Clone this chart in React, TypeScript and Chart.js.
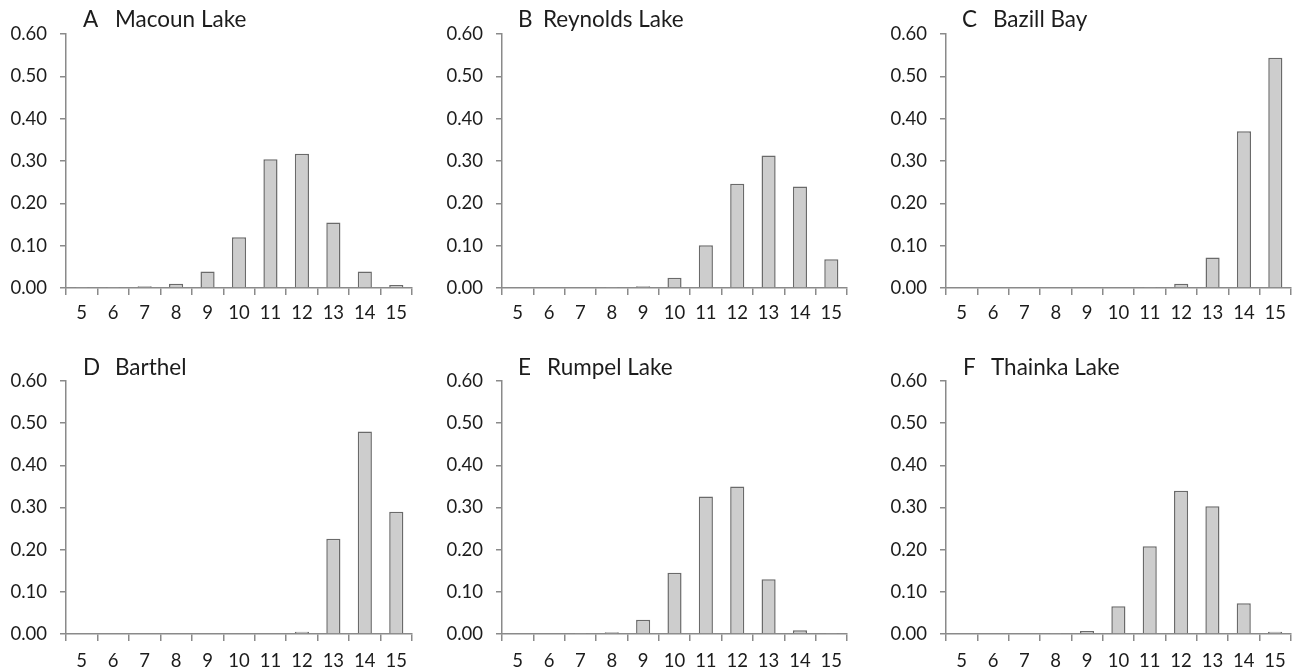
import React, { useEffect, useRef } from "react";
import { Chart, registerables } from "chart.js";

Chart.register(...registerables);

// ---------- DATA ----------
const lengthClasses = ["5", "6", "7", "8", "9", "10", "11", "12", "13", "14", "15"];

const macounLake = [0.001, 0.001, 0.004, 0.01, 0.039, 0.12, 0.304, 0.317, 0.155, 0.039, 0.007];
const reynoldsLake = [0, 0, 0, 0.001, 0.004, 0.024, 0.101, 0.246, 0.313, 0.24, 0.068];
const bazillBay = [0, 0, 0, 0, 0, 0, 0.001, 0.01, 0.072, 0.37, 0.544];
const barthel = [0, 0, 0, 0, 0, 0, 0, 0.0055, 0.226, 0.48, 0.29];
const rumpelLake = [0, 0, 0.001, 0.004, 0.034, 0.145, 0.326, 0.35, 0.13, 0.009, 0.001];
const thainkaLake = [0, 0, 0, 0.001, 0.007, 0.066, 0.208, 0.34, 0.303, 0.073, 0.0055];

const panelLetters = ["A", "B", "C", "D", "E", "F"];
const panelNames = ["Macoun Lake", "Reynolds Lake", "Bazill Bay", "Barthel", "Rumpel Lake", "Thainka Lake"];
const panelSeries = [macounLake, reynoldsLake, bazillBay, barthel, rumpelLake, thainkaLake];

const yMin = 0;
const yMax = 0.6;
const yStep = 0.1;

// ---------- LAYOUT / STYLE ----------
type PanelLayout = {
  left: number;
  top: number;
  width: number;
  height: number;
  axisX: number;
  plotTop: number;
  plotBottom: number;
  plotRight: number;
  letterDx: number;
  nameDx: number;
  titleDy: number;
  xPad: number;
};

const layouts: PanelLayout[] = [
  { left: 0, top: 0, width: 430, height: 330, axisX: 66, plotTop: 34, plotBottom: 288, plotRight: 412, letterDx: 17, nameDx: 49, titleDy: 14, xPad: 7 },
  { left: 430, top: 0, width: 430, height: 330, axisX: 72, plotTop: 34, plotBottom: 288, plotRight: 417, letterDx: 16, nameDx: 41, titleDy: 14, xPad: 7 },
  { left: 860, top: 0, width: 435, height: 330, axisX: 86, plotTop: 34, plotBottom: 288, plotRight: 431, letterDx: 16, nameDx: 47, titleDy: 14, xPad: 7 },
  { left: 0, top: 330, width: 430, height: 341, axisX: 66, plotTop: 51, plotBottom: 304, plotRight: 412, letterDx: 17, nameDx: 49, titleDy: 13, xPad: 9 },
  { left: 430, top: 330, width: 430, height: 341, axisX: 72, plotTop: 51, plotBottom: 304, plotRight: 417, letterDx: 16, nameDx: 45, titleDy: 13, xPad: 9 },
  { left: 860, top: 330, width: 435, height: 341, axisX: 86, plotTop: 51, plotBottom: 304, plotRight: 431, letterDx: 17, nameDx: 45, titleDy: 13, xPad: 9 },
];

const FONT_FAMILY = "Lato, 'Open Sans', sans-serif";
const TEXT_COLOR = "#1c1c1c";
const AXIS_COLOR = "#8a8a8a";

function Panel({ index }: { index: number }) {
  const ref = useRef<HTMLCanvasElement | null>(null);
  const lay = layouts[index];

  useEffect(() => {
    if (!ref.current) return;
    const titlePlugin = {
      id: "panelTitle",
      afterDraw(chart: any) {
        const { ctx, chartArea } = chart;
        ctx.save();
        ctx.fillStyle = TEXT_COLOR;
        ctx.font = `22.5px ${FONT_FAMILY}`;
        ctx.textBaseline = "middle";
        ctx.textAlign = "left";
        const y = chartArea.top - lay.titleDy;
        ctx.fillText(panelLetters[index], chartArea.left + lay.letterDx, y);
        ctx.fillText(panelNames[index], chartArea.left + lay.nameDx, y);
        ctx.restore();
      },
    };

    const chart = new Chart(ref.current, {
      type: "bar",
      data: {
        labels: lengthClasses,
        datasets: [
          {
            label: panelNames[index],
            data: panelSeries[index],
            backgroundColor: "#cdcdcd",
            borderColor: "#6a6a6a",
            borderWidth: 1.5,
            barPercentage: 0.45,
            categoryPercentage: 1,
          },
        ],
      },
      options: {
        animation: false,
        responsive: false,
        devicePixelRatio: 1,
        layout: {
          padding: { top: lay.plotTop, right: lay.width - lay.plotRight, left: 0, bottom: 0 },
        },
        plugins: {
          legend: { display: false },
          tooltip: { enabled: false },
          title: { display: false },
        },
        scales: {
          x: {
            afterFit: (s: any) => {
              s.height = lay.height - lay.plotBottom;
            },
            grid: {
              offset: true,
              drawOnChartArea: false,
              drawTicks: true,
              tickLength: 7,
              color: AXIS_COLOR,
              lineWidth: 1.5,
            },
            border: { display: true, color: AXIS_COLOR, width: 1.5 },
            ticks: {
              color: TEXT_COLOR,
              font: { family: FONT_FAMILY, size: 18.5 },
              padding: lay.xPad,
              autoSkip: false,
              maxRotation: 0,
            },
          },
          y: {
            min: yMin,
            max: yMax,
            afterFit: (s: any) => {
              s.width = lay.axisX;
            },
            grid: {
              drawOnChartArea: false,
              drawTicks: true,
              tickLength: 6,
              color: AXIS_COLOR,
              lineWidth: 1.5,
            },
            border: { display: true, color: AXIS_COLOR, width: 1.5 },
            ticks: {
              stepSize: yStep,
              color: TEXT_COLOR,
              font: { family: FONT_FAMILY, size: 18.5 },
              padding: 13,
              callback: (v: any) => Number(v).toFixed(2),
            },
          },
        },
      },
      plugins: [titlePlugin],
    });
    return () => chart.destroy();
  }, [index]);

  return (
    <canvas
      ref={ref}
      width={lay.width}
      height={lay.height}
      style={{ position: "absolute", left: lay.left, top: lay.top, width: lay.width, height: lay.height }}
    />
  );
}

export default function App() {
  return (
    <div style={{ position: "absolute", left: 0, top: 0, width: 1295, height: 671, background: "#ffffff" }}>
      {layouts.map((_, i) => (
        <Panel key={i} index={i} />
      ))}
    </div>
  );
}
